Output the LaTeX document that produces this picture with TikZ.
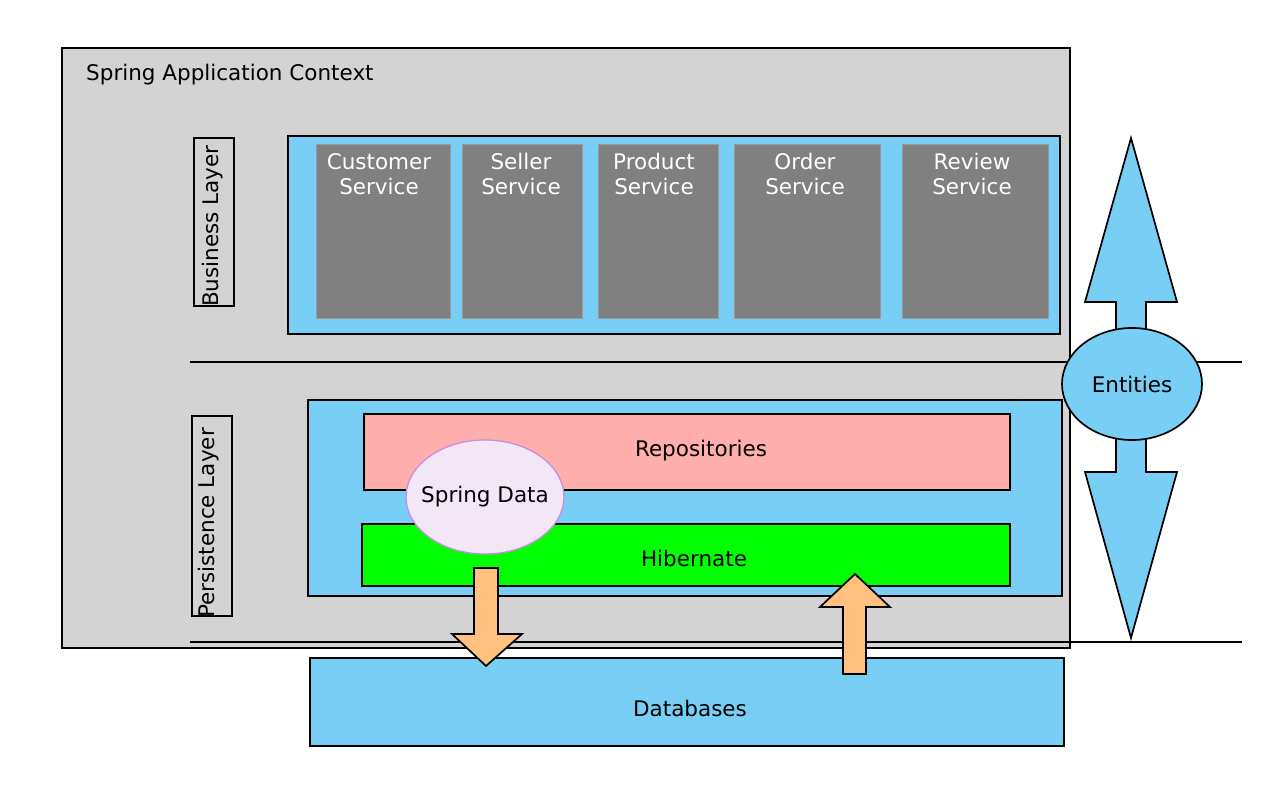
\documentclass[tikz,border=0pt]{standalone}
\usepackage{fontspec}
\setmainfont{DejaVu Sans}
\usetikzlibrary{shapes.geometric}
\definecolor{ctxgray}{HTML}{D3D3D3}
\definecolor{laybl}{HTML}{78CEF4}
\definecolor{svcgray}{HTML}{808080}
\definecolor{repopink}{HTML}{FFAEAE}
\definecolor{hibgreen}{HTML}{00FF00}
\definecolor{sdfill}{HTML}{F3E6F7}
\definecolor{sdline}{HTML}{C78FE0}
\definecolor{arrorange}{HTML}{FFC080}
\begin{document}
\begin{tikzpicture}[x=1pt,y=-1pt,
  box/.style={draw=black, line width=1.2pt},
  svc/.style={draw=svcgray!80!white, fill=svcgray, line width=0.8pt},
  svctext/.style={text=white, font=\fontsize{21.5}{25}\selectfont, align=center, anchor=north, inner sep=0pt},
  lbl/.style={font=\fontsize{21.5}{25}\selectfont},
  blockarrow/.style={draw=black, line width=1.7pt, line join=miter}
]
\useasboundingbox (0,0) rectangle (1278,794);
% context
\draw[box, fill=ctxgray] (62,48) rectangle (1070,648);
\node[lbl, anchor=base west, inner sep=0pt] (title) at (86,81) {Spring Application Context};
% layer separators
\draw[line width=1.1pt] (190,362) coordinate (s1a) -- (1242,362) coordinate (s1b);
\draw[line width=1.1pt] (190,642) coordinate (s2a) -- (1242,642) coordinate (s2b);
% business layer
\draw[box] (194,138) rectangle (234,306);
\node[lbl, rotate=90, anchor=base west, inner sep=0pt] (bl) at (218,307) {Business Layer};
\draw[box, fill=laybl] (288,136) rectangle (1060,334);
\draw[svc] (316,144) rectangle (450,318);
\draw[svc] (462,144) rectangle (582,318);
\draw[svc] (598,144) rectangle (718,318);
\draw[svc] (734,144) rectangle (880,318);
\draw[svc] (902,144) rectangle (1048,318);
\node[svctext] (cs) at (379,153) {Customer\\Service};
\node[svctext] (ss) at (521,153) {Seller\\Service};
\node[svctext] (ps) at (654,153) {Product\\Service};
\node[svctext] (os) at (805,153) {Order\\Service};
\node[svctext] (rs) at (972,153) {Review\\Service};
% persistence layer
\draw[box] (192,416) rectangle (232,616);
\node[lbl, rotate=90, anchor=base west, inner sep=0pt] (pl) at (214,618) {Persistence Layer};
\draw[box, fill=laybl] (308,400) rectangle (1062,596);
\draw[box, fill=repopink] (364,414) rectangle (1010,490);
\node[lbl] (repo) at (701,451) {Repositories};
\draw[box, fill=hibgreen] (362,524) rectangle (1010,586);
\node[lbl] (hib) at (694,558) {Hibernate};
\node[draw=sdline, fill=sdfill, line width=1.3pt, ellipse, minimum width=158pt, minimum height=114pt, inner sep=0pt] (sd) at (485,497) {};
\node[lbl] (sdt) at (sd.center) {Spring Data};
% databases
\draw[box, fill=laybl] (310,658) rectangle (1064,746);
\node[lbl] (db) at (690,708) {Databases};
% orange arrows
\draw[blockarrow, fill=arrorange] (474,568) -- (498,568) -- (498,634) -- (522,634) -- (486,666) -- (452,634) -- (474,634) -- cycle;
\draw[blockarrow, fill=arrorange] (843,674) -- (866,674) -- (866,607) -- (890,607) -- (855,574) -- (820,607) -- (843,607) -- cycle;
% entities double arrow
\draw[blockarrow, fill=laybl] (1131,138) -- (1177,302) -- (1146,302) -- (1146,472) -- (1177,472) -- (1131,638) -- (1085,472) -- (1116,472) -- (1116,302) -- (1085,302) -- cycle;
\node[draw=black, fill=laybl, line width=1.7pt, ellipse, minimum width=140pt, minimum height=112pt, inner sep=0pt] (ent) at (1132,384) {};
\node[lbl] (entt) at (ent.center) {Entities};
\end{tikzpicture}
\end{document}
